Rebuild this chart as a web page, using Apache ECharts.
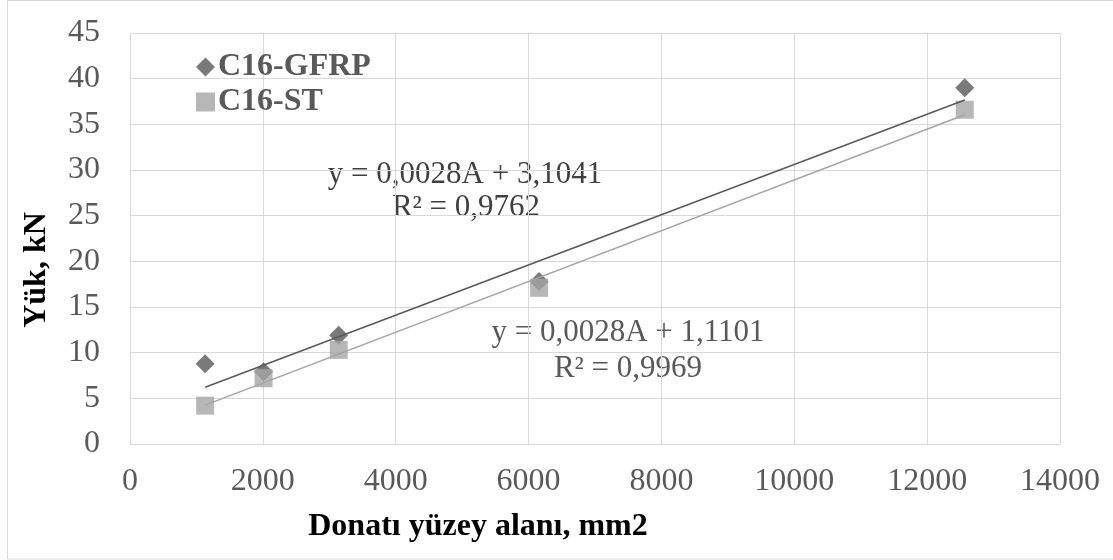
<!DOCTYPE html>
<html><head><meta charset="utf-8">
<script src="https://cdn.jsdelivr.net/npm/echarts@6/dist/echarts.min.js"></script>
<style>html,body{margin:0;padding:0;background:#fff}#c{width:1113px;height:560px}</style>
</head><body><div id="c"></div>
<script>
// ---- data ----
const seriesNames = ['C16-GFRP', 'C16-ST'];
const areaValues = [1131, 2011, 3142, 6158, 12566];      // Donatı yüzey alanı, mm2
const gfrpLoads = [8.8, 7.9, 11.9, 17.8, 39.0];          // kN
const stLoads = [4.2, 7.2, 10.3, 17.1, 36.6];            // kN
const gfrpTrend = [0.00275, 3.1041];                      // slope, intercept
const stTrend = [0.00278, 1.1101];
const gfrpEquation = ['y = 0,0028A + 3,1041', 'R² = 0,9762'];
const stEquation = ['y = 0,0028A + 1,1101', 'R² = 0,9969'];
const xAxisRange = [0, 14000, 2000];
const yAxisRange = [0, 45, 5];
const xTitle = 'Donatı yüzey alanı, mm2';
const yTitle = 'Yük, kN';

const FONT = 'Liberation Serif';
const pts = (xs, ys) => xs.map((x, i) => [x, ys[i]]);
const trendLine = (xs, t) => {
  const a = Math.min(...xs), b = Math.max(...xs);
  return [[a, t[0] * a + t[1]], [b, t[0] * b + t[1]]];
};

const chart = echarts.init(document.getElementById('c'), null, {renderer: 'canvas'});
chart.setOption({
  animation: false,
  backgroundColor: '#fff',
  grid: {left: 130, right: 53, top: 33, bottom: 116, containLabel: false},
  xAxis: {
    type: 'value', min: xAxisRange[0], max: xAxisRange[1], interval: xAxisRange[2],
    axisLine: {show: false}, axisTick: {show: false},
    axisLabel: {fontFamily: FONT, fontSize: 32, color: '#595959', margin: 22, formatter: v => String(v)},
    splitLine: {show: true, lineStyle: {color: '#d9d9d9', width: 1}}
  },
  yAxis: {
    type: 'value', min: yAxisRange[0], max: yAxisRange[1], interval: yAxisRange[2],
    axisLine: {show: false}, axisTick: {show: false},
    axisLabel: {fontFamily: FONT, fontSize: 32, color: '#595959', margin: 30},
    splitLine: {show: true, lineStyle: {color: '#d9d9d9', width: 1}}
  },
  legend: {
    data: seriesNames, orient: 'vertical', left: 191, top: 46,
    itemWidth: 19, itemHeight: 19, itemGap: 3,
    textStyle: {fontFamily: FONT, fontSize: 32, fontWeight: 'bold', color: '#595959', padding: [0, 0, 0, -2]}
  },
  series: [
    {name: seriesNames[0], type: 'scatter', symbol: 'diamond', symbolSize: [19, 19],
     itemStyle: {color: '#595959'}, data: pts(areaValues, gfrpLoads), z: 2},
    {name: seriesNames[1], type: 'scatter', symbol: 'rect', symbolSize: [18, 18],
     itemStyle: {color: '#A5A5A5'}, data: pts(areaValues, stLoads), z: 3},
    {name: 'trend-gfrp', type: 'line', symbol: 'none', silent: true,
     lineStyle: {color: '#595959', width: 1.5}, data: trendLine(areaValues, gfrpTrend), z: 4},
    {name: 'trend-st', type: 'line', symbol: 'none', silent: true,
     lineStyle: {color: '#A5A5A5', width: 1.5}, data: trendLine(areaValues, stTrend), z: 4}
  ],
  graphic: [
    {type: 'rect', shape: {x: 7.5, y: 0.5, width: 1110, height: 558.5}, silent: true,
     style: {fill: 'none', stroke: '#d9d9d9', lineWidth: 1}, z: -10},
    {type: 'text', x: 478, y: 527, style: {text: xTitle, fontFamily: FONT, fontSize: 32, fontWeight: 'bold',
     fill: '#000', align: 'center', verticalAlign: 'middle'}},
    {type: 'text', x: 37, y: 270, rotation: Math.PI / 2, style: {text: yTitle, fontFamily: FONT, fontSize: 32,
     fontWeight: 'bold', fill: '#000', align: 'center', verticalAlign: 'middle'}},
    {type: 'text', x: 465, y: 175, style: {text: gfrpEquation[0], fontFamily: FONT, fontSize: 31,
     fill: '#404040', align: 'center', verticalAlign: 'middle'}},
    {type: 'text', x: 466, y: 208, style: {text: gfrpEquation[1], fontFamily: FONT, fontSize: 31,
     fill: '#404040', align: 'center', verticalAlign: 'middle'}},
    {type: 'text', x: 628, y: 333, style: {text: stEquation[0], fontFamily: FONT, fontSize: 31,
     fill: '#595959', align: 'center', verticalAlign: 'middle'}},
    {type: 'text', x: 628, y: 369, style: {text: stEquation[1], fontFamily: FONT, fontSize: 31,
     fill: '#595959', align: 'center', verticalAlign: 'middle'}}
  ]
});
</script></body></html>
